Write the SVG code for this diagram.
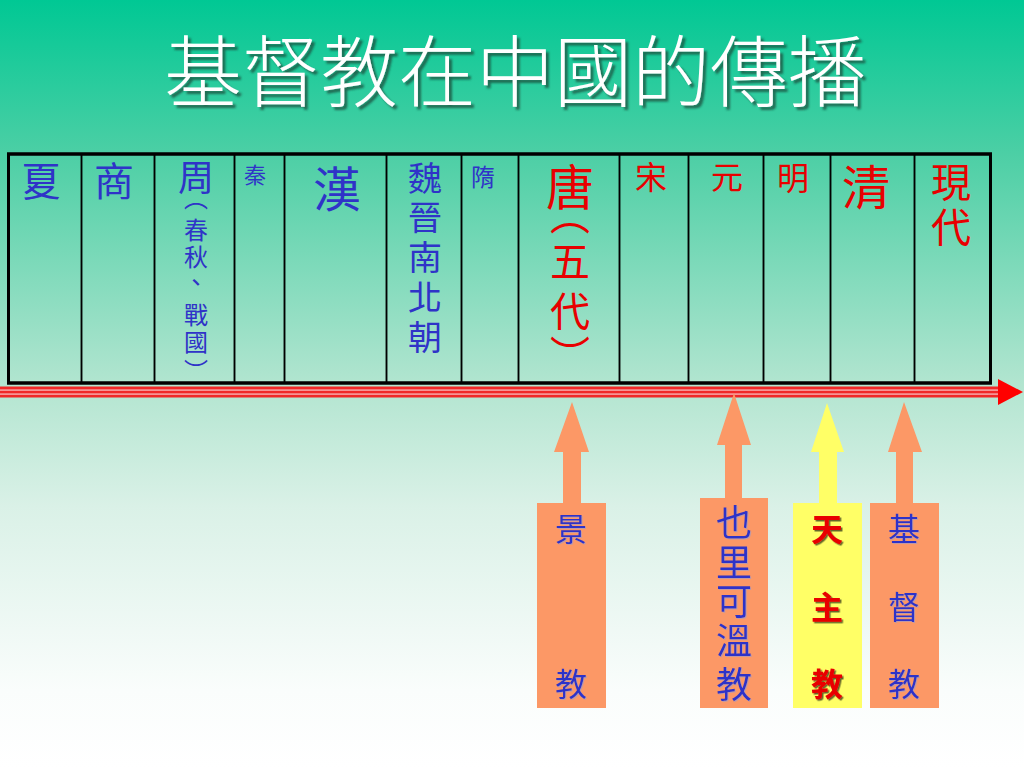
<svg xmlns="http://www.w3.org/2000/svg" width="1024" height="768" viewBox="0 0 1024 768">
<defs>
<linearGradient id="bg" x1="0" y1="0" x2="0" y2="1">
<stop offset="0" stop-color="#00c894"/>
<stop offset="0.2" stop-color="#4ccfa5"/>
<stop offset="0.5" stop-color="#b2e5d0"/>
<stop offset="0.66" stop-color="#daf1e7"/>
<stop offset="0.9" stop-color="#fafdfc"/>
<stop offset="1" stop-color="#ffffff"/>
</linearGradient>
<filter id="sh" x="-10%" y="-10%" width="130%" height="130%">
<feDropShadow dx="3" dy="3" stdDeviation="0.8" flood-color="#1a4a3a" flood-opacity="0.75"/>
</filter>
<filter id="sh2" x="-20%" y="-20%" width="150%" height="150%">
<feDropShadow dx="1.5" dy="1.5" stdDeviation="0.6" flood-color="#000000" flood-opacity="0.6"/>
</filter>
<filter id="sh3" x="-20%" y="-20%" width="150%" height="150%">
<feDropShadow dx="1" dy="1" stdDeviation="0.5" flood-color="#9999cc" flood-opacity="0.6"/>
</filter>
<style>
text{font-family:"Noto Sans CJK TC","Noto Sans CJK SC",sans-serif;text-anchor:middle}
.b{fill:#2f33c8}
.r{fill:#e80000}
.title{fill:#ffffff;font-size:78px;font-weight:300;filter:url(#sh)}
.cell{fill:none;stroke:#000;stroke-width:1.5}
.frame{fill:none;stroke:#000;stroke-width:3}
.ora{fill:#fc9866}
.yel{fill:#ffff66}
.bx{font-size:32px;filter:url(#sh3)}
.tz{font-size:32px;font-weight:bold;fill:#e80000;filter:url(#sh2)}
</style>
</defs>
<rect x="0" y="0" width="1024" height="768" fill="url(#bg)"/>
<g id="title"><text class="title" x="515" y="101">基督教在中國的傳播</text></g>

<g id="table">
<rect class="frame" x="8.5" y="154" width="982" height="229"/>
<g id="col-xia"><rect class="cell" x="8.5" y="154" width="73" height="229"/><text class="b" x="41" y="196" font-size="40">夏</text></g>
<g id="col-shang"><rect class="cell" x="81.5" y="154" width="73" height="229"/><text class="b" x="114" y="196" font-size="40">商</text></g>
<g id="col-zhou"><rect class="cell" x="154.5" y="154" width="80" height="229"/>
<text class="b" x="196" y="191" font-size="36">周</text>
<text class="b" x="196" font-size="24"><tspan x="196" y="207">︵</tspan><tspan x="196" y="238.5">春</tspan><tspan x="196" y="265.5">秋</tspan><tspan x="196" y="291">、</tspan><tspan x="196" y="323.5">戰</tspan><tspan x="196" y="350.5">國</tspan><tspan x="196" y="380">︶</tspan></text></g>
<g id="col-qin"><rect class="cell" x="234.5" y="154" width="50" height="229"/><text class="b" x="255" y="183" font-size="22">秦</text></g>
<g id="col-han"><rect class="cell" x="284.5" y="154" width="102" height="229"/><text class="b" x="337" y="207" font-size="48">漢</text></g>
<g id="col-wei"><rect class="cell" x="386.5" y="154" width="75" height="229"/>
<text class="b" font-size="34"><tspan x="425" y="191">魏</tspan><tspan x="425" y="230">晉</tspan><tspan x="425" y="270">南</tspan><tspan x="425" y="310">北</tspan><tspan x="425" y="350">朝</tspan></text></g>
<g id="col-sui"><rect class="cell" x="461.5" y="154" width="57" height="229"/><text class="b" x="483" y="185.5" font-size="24">隋</text></g>
<g id="col-tang"><rect class="cell" x="518.5" y="154" width="101" height="229"/>
<text class="r" x="570" y="205" font-size="48">唐</text>
<text class="r" font-size="40"><tspan x="570" y="230">︵</tspan><tspan x="570" y="276">五</tspan><tspan x="570" y="326">代</tspan><tspan x="570" y="370">︶</tspan></text></g>
<g id="col-song"><rect class="cell" x="619.5" y="154" width="69" height="229"/><text class="r" x="651" y="189" font-size="32">宋</text></g>
<g id="col-yuan"><rect class="cell" x="688.5" y="154" width="75" height="229"/><text class="r" x="727" y="189" font-size="32">元</text></g>
<g id="col-ming"><rect class="cell" x="763.5" y="154" width="67" height="229"/><text class="r" x="793" y="190" font-size="32">明</text></g>
<g id="col-qing"><rect class="cell" x="830.5" y="154" width="84" height="229"/><text class="r" x="866" y="205" font-size="48">清</text></g>
<g id="col-modern"><rect class="cell" x="914.5" y="154" width="76" height="229"/>
<text class="r" font-size="40"><tspan x="951" y="197">現</tspan><tspan x="951" y="242">代</tspan></text></g>
<rect class="frame" x="8.5" y="154" width="982" height="229"/>
</g>

<g id="connectors">
<g id="timeline">
<rect x="0" y="386.5" width="1000" height="11" fill="#f02828"/>
<rect x="0" y="389.3" width="1000" height="1.6" fill="#f6a0a0"/>
<rect x="0" y="393.3" width="1000" height="1.6" fill="#f6a0a0"/>
<polygon points="998,379 1023,392 998,405" fill="#ff0000"/>
</g>
<polygon class="ora" points="563,504 563,452 554,452 572,402 589,452 581,452 581,504"/>
<polygon class="ora" points="725,499 725,445 717,445 734,393 751,445 742,445 742,499"/>
<polygon class="yel" points="819,504 819,452 811,452 827,403 844,452 837,452 837,504"/>
<polygon class="ora" points="896,504 896,452 888,452 904,402 922,452 913,452 913,504"/>
</g>

<g id="node-jingjiao">
<rect class="ora" x="537" y="503" width="69" height="205"/>
<text class="b bx"><tspan x="571" y="541">景</tspan><tspan x="571" y="696">教</tspan></text>
</g>
<g id="node-yelikewen">
<rect class="ora" x="700" y="498" width="68" height="210"/>
<text class="b bx" style="font-size:36px"><tspan x="734" y="536">也</tspan><tspan x="734" y="576">里</tspan><tspan x="734" y="615">可</tspan><tspan x="734" y="654">溫</tspan><tspan x="734" y="698">教</tspan></text>
</g>
<g id="node-tianzhujiao">
<rect class="yel" x="793" y="503" width="69" height="205"/>
<text class="tz"><tspan x="827" y="541">天</tspan><tspan x="827" y="619">主</tspan><tspan x="827" y="696">教</tspan></text>
</g>
<g id="node-jidujiao">
<rect class="ora" x="870" y="503" width="69" height="205"/>
<text class="b bx"><tspan x="904" y="541">基</tspan><tspan x="904" y="619">督</tspan><tspan x="904" y="696">教</tspan></text>
</g>
</svg>
